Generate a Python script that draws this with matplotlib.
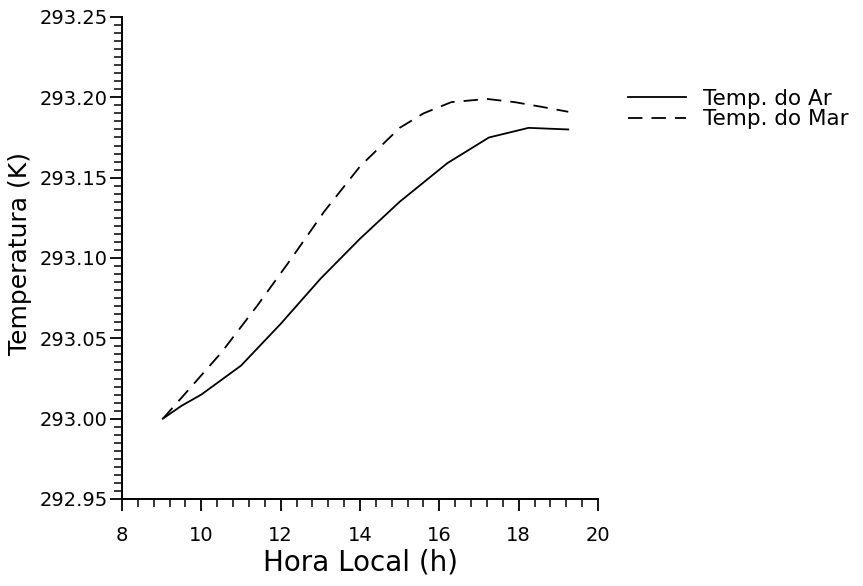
import matplotlib
matplotlib.use("Agg")
import matplotlib.pyplot as plt
from matplotlib.ticker import MultipleLocator, FixedLocator, FixedFormatter

# ---- data ----
hora_ar = [9.03, 9.5, 10.0, 11.0, 12.0, 13.0, 14.0, 15.0, 16.2, 17.25, 18.25, 19.25]
temp_ar = [293.000, 293.008, 293.015, 293.033, 293.059, 293.087, 293.112, 293.135,
           293.159, 293.175, 293.181, 293.180]

hora_mar = [9.03, 9.5, 10.5, 11.4, 12.25, 13.1, 14.0, 15.0, 15.6, 16.3,
            17.2, 17.9, 18.6, 19.25]
temp_mar = [293.000, 293.013, 293.041, 293.070, 293.099, 293.129, 293.157,
            293.181, 293.190, 293.197, 293.199, 293.197, 293.194, 293.191]

xticks = [8, 10, 12, 14, 16, 18, 20]
xticklabels = ["8", "10", "12", "14", "16", "18", "20"]
yticks = [292.95, 293.00, 293.05, 293.10, 293.15, 293.20, 293.25]
yticklabels = ["292.95", "293.00", "293.05", "293.10", "293.15", "293.20", "293.25"]

label_ar = "Temp. do Ar"
label_mar = "Temp. do Mar"
xlabel = "Hora Local (h)"
ylabel = "Temperatura (K)"

# ---- figure ----
plt.rcParams['font.family'] = ['DejaVu Sans']
fig = plt.figure(figsize=(8.63, 5.86), dpi=100)
ax = fig.add_axes([122/863, 1 - 499/586, 476/863, 482/586])

ax.plot(hora_ar, temp_ar, color="black", lw=1.3, label=label_ar)
ax.plot(hora_mar, temp_mar, color="black", lw=1.3, dashes=(8, 5), label=label_mar)

ax.set_xlim(8, 20)
ax.set_ylim(292.95, 293.25)

ax.xaxis.set_major_locator(FixedLocator(xticks))
ax.xaxis.set_major_formatter(FixedFormatter(xticklabels))
ax.xaxis.set_minor_locator(MultipleLocator(0.4))
ax.yaxis.set_major_locator(FixedLocator(yticks))
ax.yaxis.set_major_formatter(FixedFormatter(yticklabels))
ax.yaxis.set_minor_locator(MultipleLocator(0.005))

for s in ["top", "right"]:
    ax.spines[s].set_visible(False)
for s in ["left", "bottom"]:
    ax.spines[s].set_linewidth(1.4)

ax.tick_params(which="major", direction="out", length=8.5, width=1.3, labelsize=14, color="black")
ax.tick_params(which="minor", direction="out", length=5.5, width=1.1, color="black")
ax.tick_params(axis="x", which="major", pad=11)
ax.tick_params(axis="y", which="major", pad=2)

ax.set_xlabel(xlabel, fontsize=20)
ax.xaxis.set_label_coords(0.5, -0.103)
ax.xaxis.label.set_va("top")
ax.set_ylabel(ylabel, fontsize=18)
ax.yaxis.set_label_coords(-0.19, 0.51)

leg = ax.legend(loc="upper left", bbox_to_anchor=(628/863, 1 - 89/586),
                bbox_transform=fig.transFigure, frameon=False, fontsize=15.5,
                handlelength=2.7, handletextpad=0.8, labelspacing=0.02,
                borderpad=0, borderaxespad=0)

fig.savefig("out.png", dpi=100, facecolor="white")
